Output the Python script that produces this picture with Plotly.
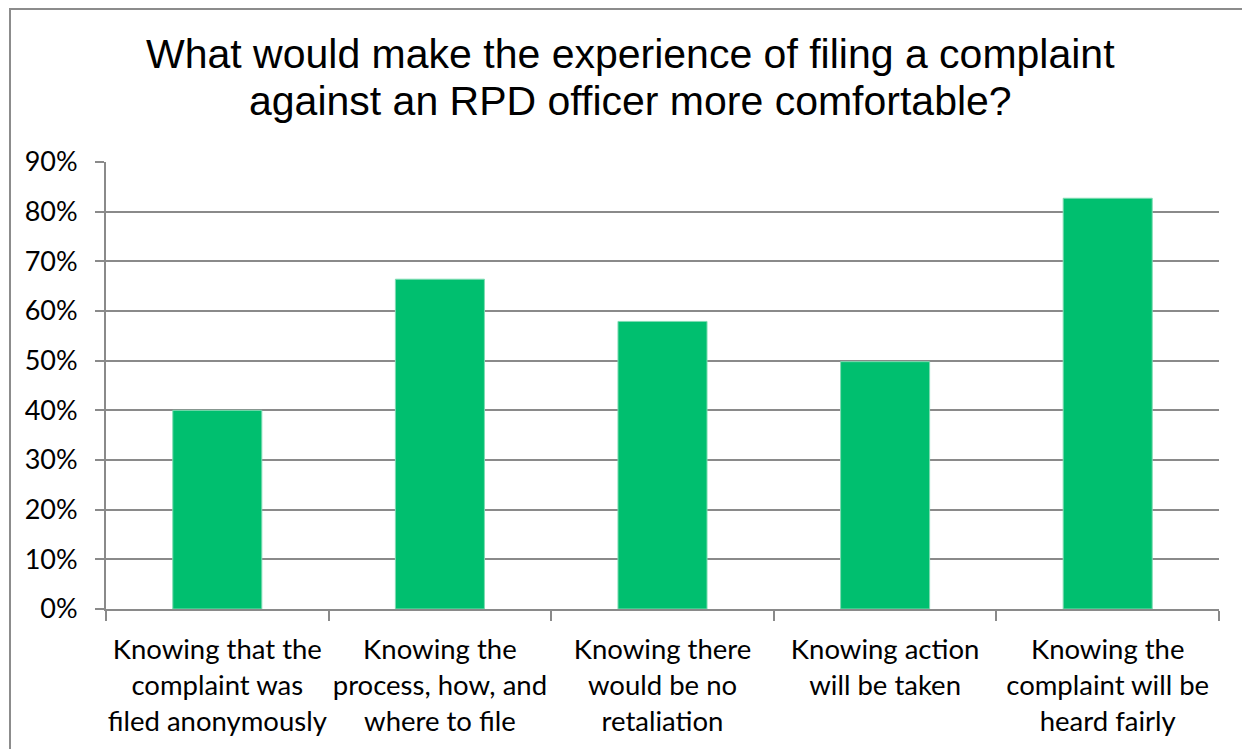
import plotly.graph_objects as go

categories = [
    "Knowing that the<br>complaint was<br>filed anonymously",
    "Knowing the<br>process, how, and<br>where to file",
    "Knowing there<br>would be no<br>retaliation",
    "Knowing action<br>will be taken",
    "Knowing the<br>complaint will be<br>heard fairly",
]
percent = [0.40, 0.664, 0.579, 0.498, 0.827]
y_ticks = [0, 0.1, 0.2, 0.3, 0.4, 0.5, 0.6, 0.7, 0.8, 0.9]

title_lines = ["What would make the experience of filing a complaint",
               "against an RPD officer more comfortable?"]

grid_col = "#8a8a8a"

# page body has an 8px margin, so the figure is drawn 8px smaller
W, H = 1242, 741
L, T, R, B = 98, 154, 31, 140
plot_w = W - L - R
plot_h = H - T - B

fig = go.Figure()
fig.add_trace(go.Bar(x=categories, y=percent, width=0.4,
                     marker=dict(color="#00BF6F", line=dict(color="#7fdcb3", width=1))))

fig.update_layout(
    width=W, height=H,
    margin=dict(l=L, r=R, t=T, b=B),
    paper_bgcolor="white", plot_bgcolor="white",
    showlegend=False,
)

# title as two centred lines
for txt, py in zip(title_lines, [46, 93]):
    fig.add_annotation(text=txt, xref="paper", yref="paper",
                       x=(622 - L) / plot_w, y=(T + plot_h - py) / plot_h,
                       xanchor="center", yanchor="middle", showarrow=False,
                       font=dict(family="Liberation Sans, Arial", size=41, color="black"))

fig.update_yaxes(
    range=[0, 0.9], tickvals=y_ticks, tickformat=".0%",
    showgrid=True, gridcolor=grid_col, gridwidth=2,
    zeroline=False, showline=True, linecolor=grid_col, linewidth=2,
    ticks="outside", ticklen=9, tickcolor=grid_col, tickwidth=2,
    tickfont=dict(family="Lato, Open Sans", size=27, color="black"),
    ticklabelstandoff=12,
)
fig.update_xaxes(
    showline=True, linecolor=grid_col, linewidth=2,
    ticks="outside", tickson="boundaries", ticklen=10, tickcolor=grid_col, tickwidth=2,
    tickfont=dict(family="Lato, Open Sans", size=27.5, color="black"),
    tickangle=0, ticklabelstandoff=15,
)

# outer chart border (right/bottom fall outside the picture)
fig.add_shape(type="rect", xref="paper", yref="paper",
              x0=(2 - L) / plot_w, x1=1.2, y0=-0.6, y1=(T + plot_h - 1) / plot_h,
              line=dict(color="#8c8c8c", width=2), layer="below")

fig.write_html("out.html")
